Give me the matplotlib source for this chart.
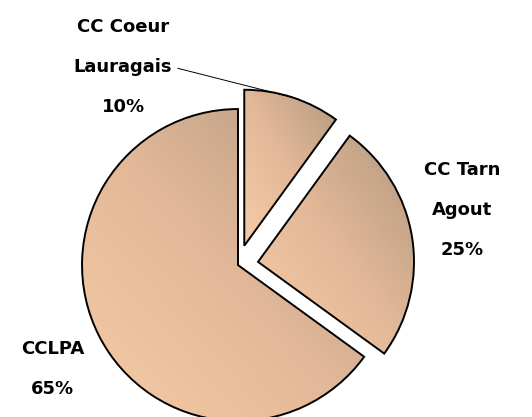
import numpy as np
import matplotlib.pyplot as plt
from matplotlib.colors import LinearSegmentedColormap

labels = ["CC Coeur\nLauragais", "CC Tarn\nAgout", "CCLPA"]
shares = [10, 25, 65]
explode = [0.13, 0.13, 0.0]

fig = plt.figure(figsize=(5.32, 4.17), dpi=100)
ax = fig.add_axes([0, 0, 1, 1])

wedges, _ = ax.pie(shares, explode=explode, startangle=90, counterclock=False,
                   radius=1.0, wedgeprops=dict(edgecolor="black", linewidth=1.4, facecolor="none"))

# gradient fill for each slice, light at lower left, darker at upper right
cmap = LinearSegmentedColormap.from_list("tan", ["#f7cba6", "#e2b898", "#b39980"])
gx, gy = np.meshgrid(np.linspace(0, 1, 200), np.linspace(0, 1, 200))
grad = (gx + gy) / 2
for w in wedges:
    path = w.get_path().transformed(w.get_patch_transform())
    (x0, y0), (x1, y1) = path.get_extents().get_points()
    im = ax.imshow(grad, cmap=cmap, extent=(x0, x1, y0, y1), origin="lower",
                   interpolation="bilinear", zorder=0.5, aspect="auto")
    im.set_clip_path(w)

ax.set_xlim(-1.526, 1.885)
ax.set_ylim(-0.974, 1.699)
ax.axis("off")

font = dict(fontsize=13, fontweight="bold", family="DejaVu Sans", ha="center", va="center",
            linespacing=2.6)

# leader line to the small slice (middle of its arc)
w0 = wedges[0]
ang = np.deg2rad((w0.theta1 + w0.theta2) / 2)
cx, cy = w0.center
tip = (cx + np.cos(ang), cy + np.sin(ang))
ax.annotate(f"{labels[0]}\n{shares[0]}%", xy=tip, xytext=(-0.737, 1.27),
            arrowprops=dict(arrowstyle="-", color="black", lw=0.7,
                            shrinkA=2, shrinkB=0, relpos=(1.0, 0.5)),
            **font)
ax.text(1.436, 0.353, f"{labels[1]}\n{shares[1]}%", **font)
ax.text(-1.19, -0.667, f"{labels[2]}\n{shares[2]}%", **font)

fig.savefig("out.png", dpi=100)
